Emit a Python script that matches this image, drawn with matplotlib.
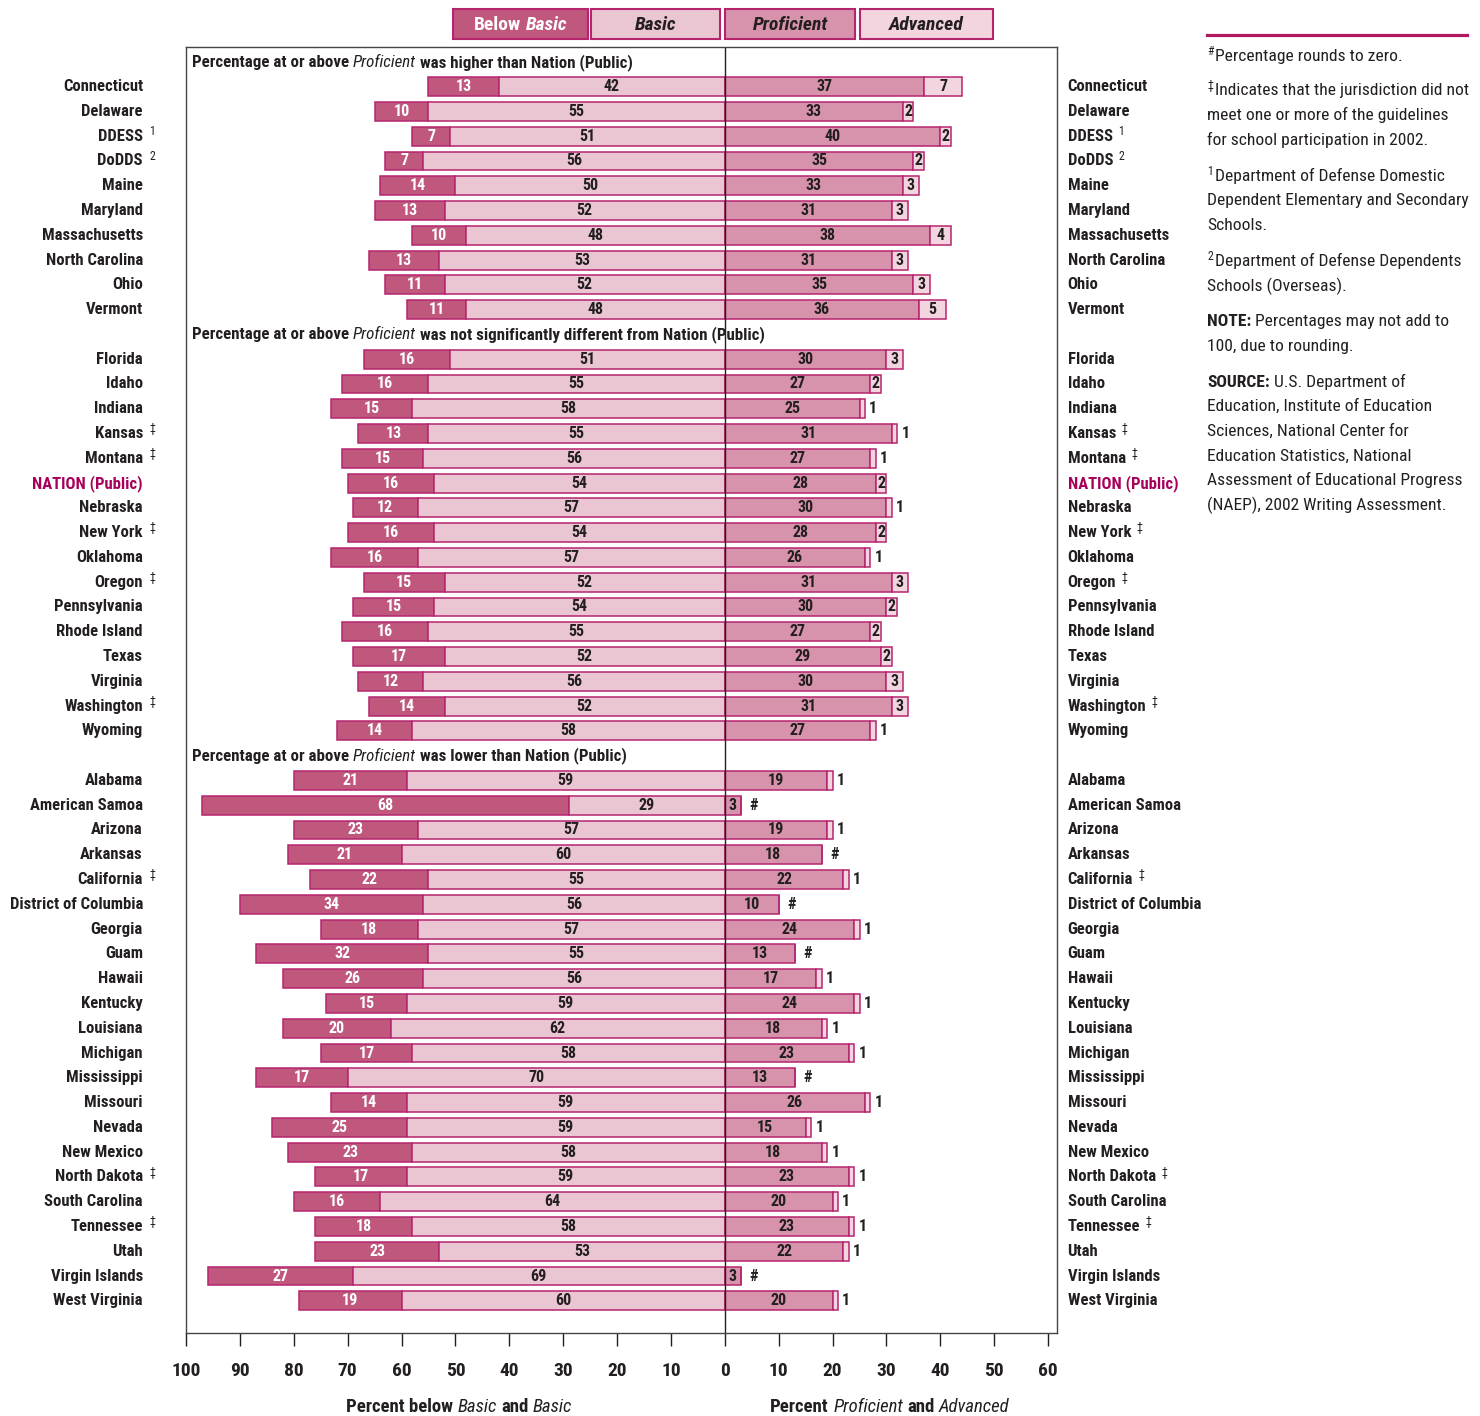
import matplotlib
matplotlib.use('Agg')
import matplotlib.pyplot as plt
from matplotlib import font_manager
from matplotlib.patches import Rectangle
from matplotlib.transforms import IdentityTransform

# pick a condensed font if there is one
avail = {f.name for f in font_manager.fontManager.ttflist}
FONT = next(f for f in ['Liberation Sans Narrow', 'DejaVu Sans Condensed',
                        'Roboto Condensed', 'Liberation Sans'] if f in avail)
plt.rcParams['font.family'] = [FONT, 'DejaVu Sans']

# data
group_titles = ['higher than', 'not significantly different from', 'lower than']
group_sizes = [10, 16, 22]

jurisdictions = [
    'Connecticut', 'Delaware', 'DDESS', 'DoDDS', 'Maine', 'Maryland',
    'Massachusetts', 'North Carolina', 'Ohio', 'Vermont',
    'Florida', 'Idaho', 'Indiana', 'Kansas', 'Montana', 'NATION (Public)',
    'Nebraska', 'New York', 'Oklahoma', 'Oregon', 'Pennsylvania',
    'Rhode Island', 'Texas', 'Virginia', 'Washington', 'Wyoming',
    'Alabama', 'American Samoa', 'Arizona', 'Arkansas', 'California',
    'District of Columbia', 'Georgia', 'Guam', 'Hawaii', 'Kentucky',
    'Louisiana', 'Michigan', 'Mississippi', 'Missouri', 'Nevada',
    'New Mexico', 'North Dakota', 'South Carolina', 'Tennessee', 'Utah',
    'Virgin Islands', 'West Virginia']
marks = [
    '', '', '1', '2', '', '', '', '', '', '',
    '', '', '', '‡', '‡', '', '', '‡', '', '‡', '', '', '', '', '‡', '',
    '', '', '', '', '‡', '', '', '', '', '', '', '', '', '', '', '', '‡',
    '', '‡', '', '', '']
below_basic = [13, 10, 7, 7, 14, 13, 10, 13, 11, 11,
               16, 16, 15, 13, 15, 16, 12, 16, 16, 15, 15, 16, 17, 12, 14, 14,
               21, 68, 23, 21, 22, 34, 18, 32, 26, 15, 20, 17, 17, 14, 25, 23,
               17, 16, 18, 23, 27, 19]
basic = [42, 55, 51, 56, 50, 52, 48, 53, 52, 48,
         51, 55, 58, 55, 56, 54, 57, 54, 57, 52, 54, 55, 52, 56, 52, 58,
         59, 29, 57, 60, 55, 56, 57, 55, 56, 59, 62, 58, 70, 59, 59, 58,
         59, 64, 58, 53, 69, 60]
proficient = [37, 33, 40, 35, 33, 31, 38, 31, 35, 36,
              30, 27, 25, 31, 27, 28, 30, 28, 26, 31, 30, 27, 29, 30, 31, 27,
              19, 3, 19, 18, 22, 10, 24, 13, 17, 24, 18, 23, 13, 26, 15, 18,
              23, 20, 23, 22, 3, 20]
advanced = [7, 2, 2, 2, 3, 3, 4, 3, 3, 5,
            3, 2, 1, 1, 1, 2, 1, 2, 1, 3, 2, 2, 2, 3, 3, 1,
            1, 0, 1, 0, 1, 0, 1, 0, 1, 1, 1, 1, 0, 1, 1, 1,
            1, 1, 1, 1, 0, 1]

C_BB = '#c0587e'
C_B = '#eac6d3'
C_P = '#d793ac'
C_A = '#f3d5e0'
EDGE = '#b5256e'
INK = '#231f20'
NATION = '#a8005a'

W, H = 1480, 1416
fig = plt.figure(figsize=(W / 100, H / 100), dpi=100)
ax = fig.add_axes([186 / W, 1 - 1333 / H, (1057 - 186) / W, (1333 - 47) / H])
ax.set_xlim(-100, 61.65)
ax.set_ylim(50.3, -1.6)

# row positions with a header slot in front of each group
ypos, header_y = [], []
pos = -1
for n in group_sizes:
    header_y.append(pos)
    ypos += [pos + 1 + i for i in range(n)]
    pos += n + 1

h = 0.76
kw = dict(height=h, edgecolor=EDGE, linewidth=1.1)
ax.barh(ypos, [-v for v in below_basic], left=[-v for v in basic], color=C_BB, **kw)
ax.barh(ypos, [-v for v in basic], color=C_B, **kw)
ax.barh(ypos, proficient, color=C_P, **kw)
ax.barh(ypos, advanced, left=proficient, color=C_A, **kw)

vfs = 11.5
for y, bb, b, p, a in zip(ypos, below_basic, basic, proficient, advanced):
    ax.text(-b - bb / 2, y, str(bb), ha='center', va='center', color='white',
            fontsize=vfs, fontweight='bold')
    ax.text(-b / 2, y, str(b), ha='center', va='center', color=INK,
            fontsize=vfs, fontweight='bold')
    ax.text(p / 2, y, str(p), ha='center', va='center', color=INK,
            fontsize=vfs, fontweight='bold')
    if a == 0:
        ax.text(p + 1.6, y, '#', ha='left', va='center', color=INK,
                fontsize=vfs, fontweight='bold')
    elif a == 1:
        ax.text(p + a + 0.8, y, '1', ha='left', va='center', color=INK,
                fontsize=vfs, fontweight='bold')
    else:
        ax.text(p + a / 2, y, str(a), ha='center', va='center', color=INK,
                fontsize=vfs, fontweight='bold')

# row labels on both sides
lfs = 12
for y, name, m in zip(ypos, jurisdictions, marks):
    col = NATION if name.startswith('NATION') else INK
    ax.text(-108.0, y, name, ha='right', va='center', color=col,
            fontsize=lfs, fontweight='bold', clip_on=False)
    t = ax.text(63.6, y, name, ha='left', va='center', color=col,
                fontsize=lfs, fontweight='bold', clip_on=False)
    if m:
        ax.annotate(m, (-106.8, y), xytext=(0, 3.5), textcoords='offset points',
                    ha='left', va='center', fontsize=8.5, color=INK,
                    annotation_clip=False)
        ax.annotate(m, xy=(1, 0.5), xycoords=t, xytext=(4, 3.5),
                    textcoords='offset points', ha='left', va='center',
                    fontsize=8.5, color=INK)

ax.axvline(0, color=INK, lw=1)
for s in ax.spines.values():
    s.set_color('#444')
    s.set_linewidth(1)
ticks = list(range(-100, 61, 10))
ax.set_xticks(ticks)
ax.set_xticklabels([str(abs(t)) for t in ticks], fontweight='bold')
ax.tick_params(axis='x', length=9, width=1, pad=12, labelsize=14,
               colors=INK)
ax.set_yticks([])

# rich text helper (mixed upright / italic runs), display pixels, baseline
renderer = fig.canvas.get_renderer()
STY = {'b': dict(fontweight='bold'), 'i': dict(fontstyle='italic'),
       'bi': dict(fontweight='bold', fontstyle='italic'), 'r': {}}


def width(t):
    return t.get_window_extent(renderer).width


def rich(x, y, parts, size=12, color=INK, ha='left'):
    probe = fig.text(0, 0, 'nn', fontsize=size, fontweight='bold')
    w2 = width(probe)
    probe.set_text('n n')
    sp = width(probe) - w2
    probe.remove()
    items = []
    for s, st in parts:
        lead = len(s) - len(s.lstrip(' '))
        trail = len(s) - len(s.rstrip(' '))
        t = fig.text(0, 0, s.strip(), transform=IdentityTransform(),
                     fontsize=size, color=color, va='baseline', **STY[st])
        items.append((t, lead, trail, width(t)))
    total = sum((l + r) * sp + w for _, l, r, w in items)
    cx = x - total / 2 if ha == 'center' else x
    for t, l, r, w in items:
        cx += l * sp
        t.set_position((cx, y))
        cx += w + r * sp


# group headers
for hy, title in zip(header_y, group_titles):
    yd = ax.transData.transform((0, hy))[1]
    rich(192, yd - 5, [('Percentage at or above ', 'b'), ('Proficient', 'i'),
                       (' was ' + title + ' Nation (Public)', 'b')], size=12.2)

# axis titles
rich(459, H - 1412, [('Percent below ', 'b'), ('Basic', 'i'), (' and ', 'b'),
                     ('Basic', 'i')], size=13.5, ha='center')
rich(890, H - 1412, [('Percent ', 'b'), ('Proficient', 'i'), (' and ', 'b'),
                     ('Advanced', 'i')], size=13.5, ha='center')

# legend boxes
legend = [('Below Basic', C_BB, 453, 588), ('Basic', C_B, 591, 720),
          ('Proficient', C_P, 725, 855), ('Advanced', C_A, 860, 993)]
for lab, c, x0, x1 in legend:
    fig.add_artist(Rectangle((x0 / W, 1 - 39 / H), (x1 - x0) / W, 30 / H,
                             transform=fig.transFigure, facecolor=c,
                             edgecolor=EDGE, lw=1.5))
    if lab == 'Below Basic':
        rich((x0 + x1) / 2, H - 30, [('Below ', 'b'), ('Basic', 'bi')],
             size=14, color='white', ha='center')
    else:
        rich((x0 + x1) / 2, H - 30, [(lab, 'bi')], size=14, ha='center')

# footnotes
fig.add_artist(plt.Line2D([1207 / W, 1467 / W], [1 - 35 / H, 1 - 35 / H],
                          transform=fig.transFigure, color='#b0185f', lw=2.3))
fs = 12.6
notes = [('#', 'Percentage rounds to zero.', 61),
         ('‡', 'Indicates that the jurisdiction did not', 95),
         ('', 'meet one or more of the guidelines', 120),
         ('', 'for school participation in 2002.', 145),
         ('1', 'Department of Defense Domestic', 181),
         ('', 'Dependent Elementary and Secondary', 205),
         ('', 'Schools.', 230),
         ('2', 'Department of Defense Dependents', 266),
         ('', 'Schools (Overseas).', 291)]
for sym, line, yb in notes:
    if sym:
        fig.text(1207, H - yb + 6, sym, transform=IdentityTransform(),
                 fontsize=8.5, color=INK, va='baseline')
    x = 1215 if sym else 1207
    fig.text(x, H - yb, line, transform=IdentityTransform(), fontsize=fs,
             color=INK, va='baseline')

rich(1207, H - 326, [('NOTE:', 'b'), (' Percentages may not add to', 'r')], size=fs)
fig.text(1207, H - 351, '100, due to rounding.', transform=IdentityTransform(),
         fontsize=fs, color=INK, va='baseline')
rich(1207, H - 387, [('SOURCE:', 'b'), (' U.S. Department of', 'r')], size=fs)
src = ['Education, Institute of Education', 'Sciences, National Center for',
       'Education Statistics, National', 'Assessment of Educational Progress',
       '(NAEP), 2002 Writing Assessment.']
for i, line in enumerate(src):
    fig.text(1207, H - 411 - i * 24.8, line, transform=IdentityTransform(),
             fontsize=fs, color=INK, va='baseline')

fig.savefig('out.png', dpi=100)
